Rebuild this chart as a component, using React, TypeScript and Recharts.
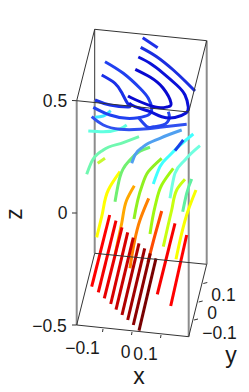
import React from "react";
import { ScatterChart, Scatter, XAxis, YAxis } from "recharts";

type P = [number, number];
type S = { c: string; p: P[] };

const boxThin: P[][] = [
  [[76.7, 100.7], [94.7, 29.3], [206.7, 40.7]],
  [[94.7, 29.3], [94.7, 100]],
  [[206.7, 40.7], [188.7, 112]],
  [[76.7, 100.7], [188.7, 112]],
  [[76.7, 325], [188.7, 336.7], [206.7, 264.3], [94.7, 253.3], [76.7, 325]],
  [[72, 100.5], [76.7, 100.7]],
  [[72, 213], [76.7, 213]],
  [[72, 325], [76.7, 325]],
  [[103, 329], [102.5, 332]],
  [[132, 332], [131.5, 335]],
  [[161, 335], [160.5, 338]],
  [[198, 319], [194, 320]],
  [[202.7, 301], [198.7, 302]],
  [[207.3, 282.5], [203.3, 283.5]],
];
const boxGrey: P[][] = [
  [[76.7, 100.7], [76.7, 325]],
  [[94.7, 100], [94.7, 253.3]],
  [[188.7, 112], [188.7, 336.7]],
  [[206.7, 40.7], [206.7, 264.3]],
];

const warmLines: S[] = [
  { c: "#ffff00", p: [[96.7, 237.3], [101.7, 216.7], [108.3, 190], [120, 171.7]] },
  { c: "#f8ff00", p: [[176, 259.3], [188.3, 210], [196, 190]] },
  { c: "#c8ff10", p: [[163.3, 246.7], [171.7, 210], [176.7, 190], [185, 179.3]] },
  { c: "#a0f810", p: [[150, 234], [155, 206.7], [161.7, 185], [173.3, 168.3]] },
  { c: "#90f020", p: [[134, 219], [141.7, 186.7], [148.3, 171.7], [161.7, 158.3]] },
  { c: "#ffa800", p: [[115, 255], [121.7, 223.3], [126.7, 200], [134.3, 185.7]] },
  { c: "#ff8000", p: [[130, 268.3], [140, 220], [148.7, 198.3]] },
  { c: "#ff4a00", p: [[148, 262], [155, 235], [161.7, 211]] },
  { c: "#ff0000", p: [[91.7, 286.7], [109.7, 215]] },
  { c: "#f40000", p: [[98.3, 292.3], [116, 220.7]] },
  { c: "#e80000", p: [[104.3, 298.3], [122, 227.3]] },
  { c: "#d80000", p: [[110.7, 304], [127.7, 232.3]] },
  { c: "#c80000", p: [[116, 309.7], [133.3, 237.7]] },
  { c: "#b00000", p: [[122, 315], [139, 243.3]] },
  { c: "#a00000", p: [[127.7, 320], [144.7, 248.3]] },
  { c: "#8c0000", p: [[133.3, 325], [150.3, 253.3]] },
  { c: "#780000", p: [[139, 330.7], [156, 258.3]] },
  { c: "#f80000", p: [[157.3, 294.3], [175, 223.3]] },
  { c: "#ff0000", p: [[170.7, 306], [186.7, 235]] },
];

const coolRising: S[] = [
  { c: "#60ffe0", p: [[88.3, 131], [103.3, 131.7], [120, 129], [126.7, 125]] },
  { c: "#40e8ff", p: [[95, 117.3], [103.3, 116], [110.7, 110.7]] },
  { c: "#70f8b0", p: [[86.7, 174.3], [91.7, 161.7], [103.3, 150], [123.3, 142.7], [139, 136.7]] },
  { c: "#c8f830", p: [[97.7, 163.3], [105, 158.3]] },
  { c: "#70f070", p: [[115, 201.7], [120, 176.7], [130, 160], [150, 147.3]] },
  { c: "#40ffff", p: [[153.3, 184], [160, 166.7], [170, 155], [193.3, 134]] },
  { c: "#70ffe0", p: [[170, 198.3], [175, 173.3], [185, 160], [200, 145.7]] },
  { c: "#60f0a0", p: [[182.7, 211.7], [186.7, 193.3], [191.7, 179]] },
  { c: "#50a0f0", p: [[131.7, 163.3], [135, 155], [143.3, 146.7], [160, 138.3], [181.7, 130]] },
  { c: "#1a40e8", p: [[175, 150.7], [183.3, 140]] },
];

const blueLoops: S[] = [
  { c: "#3050f0", p: [[91.7, 116.7], [103.3, 125], [120, 129.3], [140, 129.3], [160, 127.3], [186.7, 124.3]] },
  { c: "#2545ee", p: [[168.3, 111.7], [169.3, 118.3], [163.3, 125], [153.3, 126.7], [147, 126.7], [138, 117]] },
  { c: "#2040f0", p: [[105, 61.7], [123.3, 73.3], [140, 88.3], [148.3, 98.3], [151.7, 108.3], [148.3, 115], [138.3, 117.7], [126.7, 118.3], [110, 115], [93.3, 107.3]] },
  { c: "#1a30e8", p: [[101.7, 75], [115, 83.3], [122, 93], [128, 104], [128, 107], [110, 105], [95, 100]] },
  { c: "#1f30e8", p: [[142.7, 37.7], [157.7, 47.7]] },
  { c: "#1a2ee0", p: [[140.7, 47.3], [156.7, 56.7], [173.3, 70], [185, 81], [195, 91]] },
  { c: "#0a10d8", p: [[138.3, 57], [150, 63.3], [163.3, 73.3], [176.7, 85], [185, 95], [188.3, 107], [186, 113], [175, 117.5], [161.7, 116.7], [150, 111.7], [135, 106.7], [129, 103]] },
  { c: "#0808d0", p: [[135.3, 69.3], [150, 77], [163, 88], [171, 103], [167, 107], [155, 107], [135, 99.5], [128, 96]] },
];

const tickLabels: { x: number; y: number; label: string }[] = [
  { x: 55, y: 101, label: "0.5" },
  { x: 62.5, y: 213, label: "0" },
  { x: 49.5, y: 326, label: "\u22120.5" },
  { x: 82.5, y: 348, label: "\u22120.1" },
  { x: 125.5, y: 352, label: "0" },
  { x: 145.5, y: 354, label: "0.1" },
  { x: 223.5, y: 295, label: "0.1" },
  { x: 212, y: 313, label: "0" },
  { x: 219.5, y: 333, label: "\u22120.1" },
];
const axisTitles: { x: number; y: number; label: string; rot: number }[] = [
  { x: 14, y: 214, label: "z", rot: -90 },
  { x: 139, y: 376, label: "x", rot: 0 },
  { x: 231, y: 355, label: "y", rot: 0 },
];

const toData = (p: P[]) => p.map(([x, y]) => ({ x, y }));
const noDot = () => <g />;

const line = (p: P[], c: string, w: number, type: string, key: string) => (
  <Scatter
    key={key}
    data={toData(p)}
    isAnimationActive={false}
    shape={noDot}
    line={{ stroke: c, strokeWidth: w, fill: "none" } as any}
    lineType="joint"
    lineJointType={type as any}
  />
);

const tickText = (props: any) => (
  <text x={props.cx} y={props.cy} textAnchor="middle" dominantBaseline="central" fontFamily="Liberation Sans" fontSize={17.5} fill="#1a1a1a">
    {props.payload.label}
  </text>
);
const titleText = (props: any) => (
  <text
    x={props.cx}
    y={props.cy}
    textAnchor="middle"
    dominantBaseline="central"
    fontFamily="Liberation Sans"
    fontSize={23}
    fill="#1a1a1a"
    transform={props.payload.rot ? `rotate(${props.payload.rot} ${props.cx} ${props.cy})` : undefined}
  >
    {props.payload.label}
  </text>
);

export default function App() {
  return (
    <div style={{ position: "absolute", left: 0, top: 0, width: 249, height: 392, background: "#fff" }}>
      <ScatterChart width={249} height={392} margin={{ top: 0, right: 0, bottom: 0, left: 0 }}>
        <XAxis type="number" dataKey="x" domain={[0, 249]} hide />
        <YAxis type="number" dataKey="y" domain={[0, 392]} reversed hide />
        {boxGrey.map((p, i) => line(p, "#8c8c8c", 2, "linear", "g" + i))}
        {warmLines.map((s, i) => line(s.p, s.c, 3, "monotoneY", "w" + i))}
        {coolRising.map((s, i) => line(s.p, s.c, 3, "monotoneX", "c" + i))}
        {blueLoops.map((s, i) => line(s.p, s.c, 3, "natural", "b" + i))}
        {boxThin.map((p, i) => line(p, "#333333", 1, "linear", "t" + i))}
        <Scatter data={tickLabels} isAnimationActive={false} shape={tickText} />
        <Scatter data={axisTitles} isAnimationActive={false} shape={titleText} />
      </ScatterChart>
    </div>
  );
}
